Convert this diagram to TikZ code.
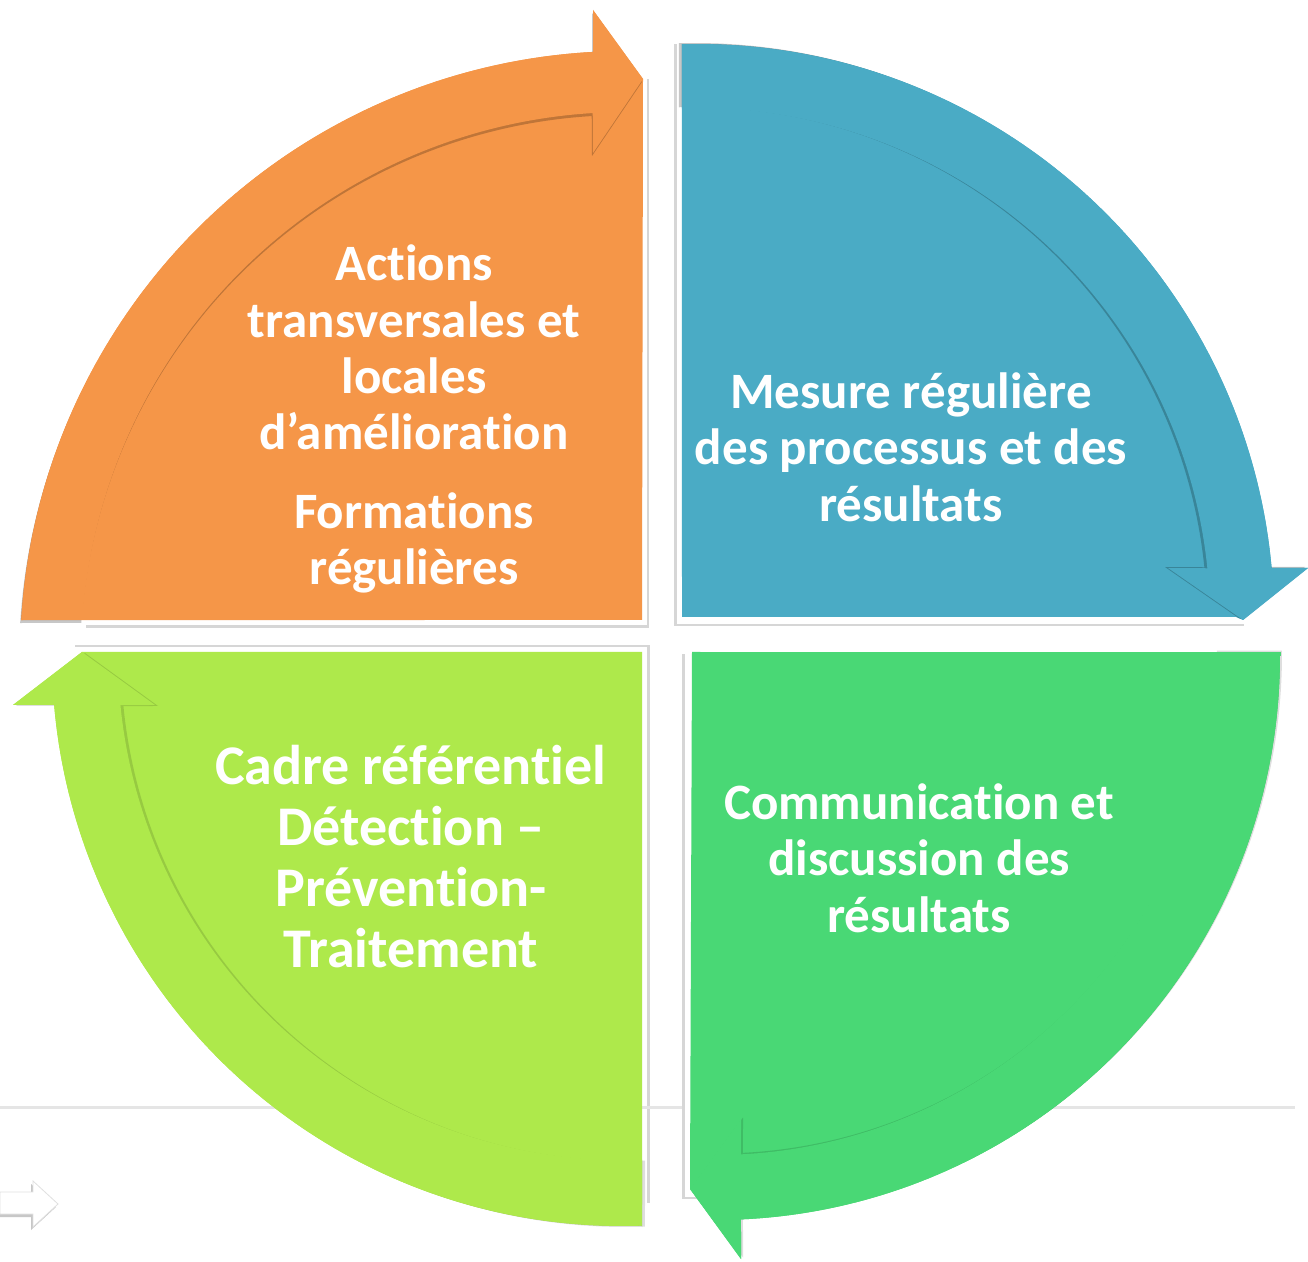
\documentclass[tikz,border=0pt]{standalone}
\usepackage{fontspec}
\setmainfont{Carlito}[Ligatures=NoCommon]
\definecolor{cOr}{RGB}{245,150,72}
\definecolor{cBl}{RGB}{74,171,197}
\definecolor{cGr}{RGB}{73,216,117}
\definecolor{cLg}{RGB}{174,233,75}
\tikzset{
  lbl/.style={text=white, font={\fontsize{25.5}{28.15}\selectfont\bfseries}, align=center, inner sep=0pt},
  lblbig/.style={lbl, font={\fontsize{28}{30.5}\selectfont\bfseries}},
  boxshadow/.style={fill=black, fill opacity=0.16},
  bandshadow/.style={fill=black, fill opacity=0.22},
  softshadow/.style={fill=black, fill opacity=0.13},
}
\begin{document}
\begin{tikzpicture}[x=0.5pt,y=-0.5pt]
\useasboundingbox (0,0) rectangle (1308,1262);
\fill[white] (0,0) rectangle (1308,1262);
% small arrow icon
\fill[black!22, shift={(-2,3)}] (0,1192) -- (33,1192) -- (33,1181) -- (58,1204) -- (33,1227) -- (33,1214) -- (0,1214) -- cycle;
\filldraw[fill=white, draw=black!12, line width=0.4pt] (0,1192) -- (33,1192) -- (33,1181) -- (58,1204) -- (33,1227) -- (33,1214) -- (0,1214) -- cycle;
% white boxes with shadows
\fill[boxshadow, shift={(2,3)}] (84,76) rectangle (647,625);
\fill[white] (84,76) rectangle (647,625);
\fill[boxshadow, shift={(-3,2)}] (677,42) rectangle (1247,624);
\fill[white] (677,42) rectangle (1247,624);
\fill[boxshadow, shift={(-3,2)}] (685,652) rectangle (860,1197);
\fill[white] (685,652) rectangle (860,1197);
\fill[boxshadow, shift={(3,-2)}] (72,647) rectangle (647,1205);
\fill[white] (72,647) rectangle (647,1205);
% faint slide line
\draw[black!10, line width=1.5pt] (0,1107) -- (682,1107);
\draw[black!10, line width=1.5pt] (692,1107) -- (1295,1107);
% ---- orange quadrant
\fill[cOr] plot[domain=183.5:266.9,samples=90] ({626+606*cos(\x)},{657+606*sin(\x)}) -- (593,10) -- (643,79) -- (642,620) -- cycle;
\fill[bandshadow, shift={(-1,3)}] plot[domain=183.5:266.9,samples=90] ({626+606*cos(\x)},{657+606*sin(\x)}) -- (593,10) -- (643,79) -- (593,153) -- plot[domain=266.5:183.9,samples=90] ({626+545*cos(\x)},{657+545*sin(\x)}) -- cycle;
\fill[cOr] plot[domain=183.5:266.9,samples=90] ({626+606*cos(\x)},{657+606*sin(\x)}) -- (593,10) -- (643,79) -- (593,153) -- plot[domain=266.5:183.9,samples=90] ({626+545*cos(\x)},{657+545*sin(\x)}) -- cycle;
% ---- blue quadrant
\fill[cBl] plot[domain=268.4:354.8,samples=90] ({698+576*cos(\x)},{620+576*sin(\x)}) -- (1308,568) -- (1243,620) -- (1236,617) -- (682,617) -- cycle;
\fill[bandshadow, shift={(-3,-1)}] plot[domain=268.4:354.8,samples=90] ({698+576*cos(\x)},{620+576*sin(\x)}) -- (1308,568) -- (1243,620) -- (1168,568) -- plot[domain=354.2:268.2,samples=90] ({698+512*cos(\x)},{620+512*sin(\x)}) -- cycle;
\fill[cBl] plot[domain=268.4:354.8,samples=90] ({698+576*cos(\x)},{620+576*sin(\x)}) -- (1308,568) -- (1243,620) -- (1168,568) -- plot[domain=354.2:268.2,samples=90] ({698+512*cos(\x)},{620+512*sin(\x)}) -- cycle;
% ---- green quadrant
\fill[cGr] (692,652) -- plot[domain=-0.4:87.46,samples=90] ({716+564*cos(\x)},{656+564*sin(\x)}) -- (741,1259) -- (690,1189) -- cycle;
\fill[softshadow, shift={(2,-1.5)}] plot[domain=-0.4:87.46,samples=90] ({716+564*cos(\x)},{656+564*sin(\x)}) -- (741,1259) -- (690,1189) -- (741,1119) -- plot[domain=87.13:-0.46,samples=90] ({716+499*cos(\x)},{656+499*sin(\x)}) -- cycle;
\fill[cGr] plot[domain=-0.4:87.46,samples=90] ({716+564*cos(\x)},{656+564*sin(\x)}) -- (741,1259) -- (690,1189) -- (741,1119) -- plot[domain=87.13:-0.46,samples=90] ({716+499*cos(\x)},{656+499*sin(\x)}) -- cycle;
\fill[cGr] (692,652) rectangle (1281,656);
% ---- light green quadrant
\fill[cLg] (642,652) -- (642,1227) -- plot[domain=88:175.07,samples=90] ({622+570*cos(\x)},{656+570*sin(\x)}) -- (13,705) -- (82,652) -- cycle;
\fill[softshadow, shift={(3,1)}] plot[domain=88:175.07,samples=90] ({622+570*cos(\x)},{656+570*sin(\x)}) -- (13,705) -- (82,652) -- (155,705) -- plot[domain=174.42:87.7,samples=90] ({622+504*cos(\x)},{656+504*sin(\x)}) -- cycle;
\fill[cLg] plot[domain=88:175.07,samples=90] ({622+570*cos(\x)},{656+570*sin(\x)}) -- (13,705) -- (82,652) -- (155,705) -- plot[domain=174.42:87.7,samples=90] ({622+504*cos(\x)},{656+504*sin(\x)}) -- cycle;
% ---- texts
\node[lbl] (tO) at (414,419) {Actions\\transversales et\\locales\\d’amélioration\\[11pt]Formations\\régulières};
\node[lbl] (tB) at (911,447) {Mesure régulière\\des processus et des\\résultats};
\node[lbl] (tG) at (919,858) {Communication et\\discussion des\\résultats};
\node[lblbig] (tL) at (411,857) {Cadre référentiel\\Détection –\\Prévention-\\Traitement};
\end{tikzpicture}
\end{document}
